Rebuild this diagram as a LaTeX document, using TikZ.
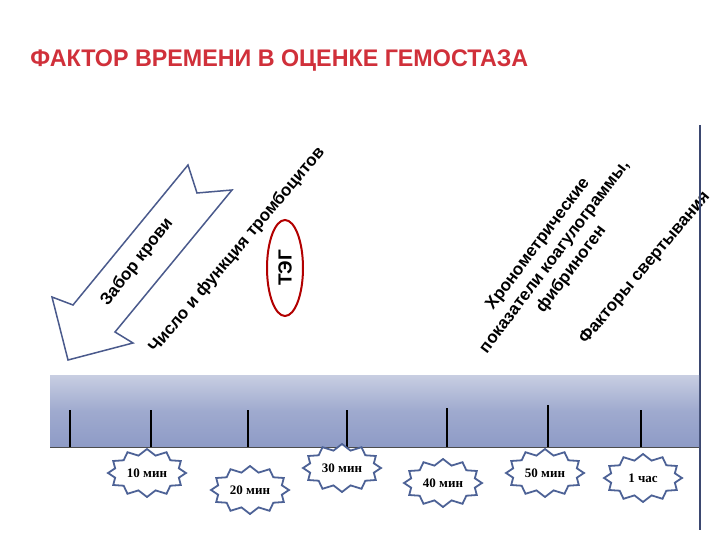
\documentclass[tikz,border=0pt]{standalone}
\usepackage{fontspec}
\setmainfont{Liberation Sans}
\newfontfamily\serifb{Liberation Serif}
\usetikzlibrary{shapes.symbols,shapes.geometric,shadows}
\definecolor{titlered}{HTML}{D0303A}
\definecolor{arrowblue}{HTML}{4A5A8C}
\definecolor{bandtop}{HTML}{C8CEE2}
\definecolor{bandbot}{HTML}{8E9BC6}
\definecolor{starblue}{HTML}{4D6296}
\tikzset{
 lbl/.style={font=\bfseries\fontsize{17}{21}\selectfont, align=center, inner sep=0},
 tick/.style={line width=2pt, black},
 star/.style={starburst, starburst points=12, starburst point height=6pt, random starburst=0,
   draw=starblue, line width=1.8pt, fill=white, minimum width=78pt, minimum height=48pt,
   font=\serifb\bfseries\fontsize{13}{14}\selectfont, inner sep=1pt}
}
\begin{document}
\begin{tikzpicture}[x=1pt,y=-1pt]
\useasboundingbox (0,0) rectangle (720,540);
\node[text=titlered, font=\bfseries\fontsize{24}{26}\selectfont, anchor=west, xscale=0.97] (title) at (27,61) {ФАКТОР ВРЕМЕНИ В ОЦЕНКЕ ГЕМОСТАЗА};
% arrow
\draw[arrowblue, line width=1.5pt, fill=white, line join=miter]
 (188,165) -- (197,193) -- (232,190) -- (115,332) -- (133,343) -- (68,360) -- (52,297) -- (73,305) -- cycle;
\node[lbl, rotate=52] (zabor) at (137,262) {Забор крови};
\node[lbl, rotate=50] (chislo) at (237,250) {Число и функция тромбоцитов};
\node[draw=red!70!black, line width=2pt, ellipse, minimum width=36pt, minimum height=96pt] (tegell) at (285,268) {};
\node[font=\bfseries\fontsize{19}{20}\selectfont, rotate=90] (teg) at (285,268) {ТЭГ};
\node[lbl, rotate=53] (chrono) at (555,257) {Хронометрические\\показатели коагулограммы,\\фибриноген};
\node[lbl, rotate=50] (fakt) at (645,268) {Факторы свертывания};
% axis line
\draw[line width=1.8pt, arrowblue!80!black] (700,125) -- (700,530);
% band
\shade[top color=bandtop, bottom color=bandbot, middle color=bandbot!85!white] (50,375) rectangle (699,447);
\draw[black!70, line width=0.6pt] (50,447) -- (699,447);
\foreach \x/\y in {70/410,151/410,248/410,347/410,447/408,548/405,641/410}
  \draw[tick] (\x,\y) -- (\x,447);
\node[star] (s1) at (147,473) {10 мин};
\node[star] (s2) at (250,490) {20 мин};
\node[star] (s3) at (342,468) {30 мин};
\node[star] (s4) at (443,483) {40 мин};
\node[star] (s5) at (545,473) {50 мин};
\node[star] (s6) at (643,478) {1 час};
\end{tikzpicture}
\end{document}
